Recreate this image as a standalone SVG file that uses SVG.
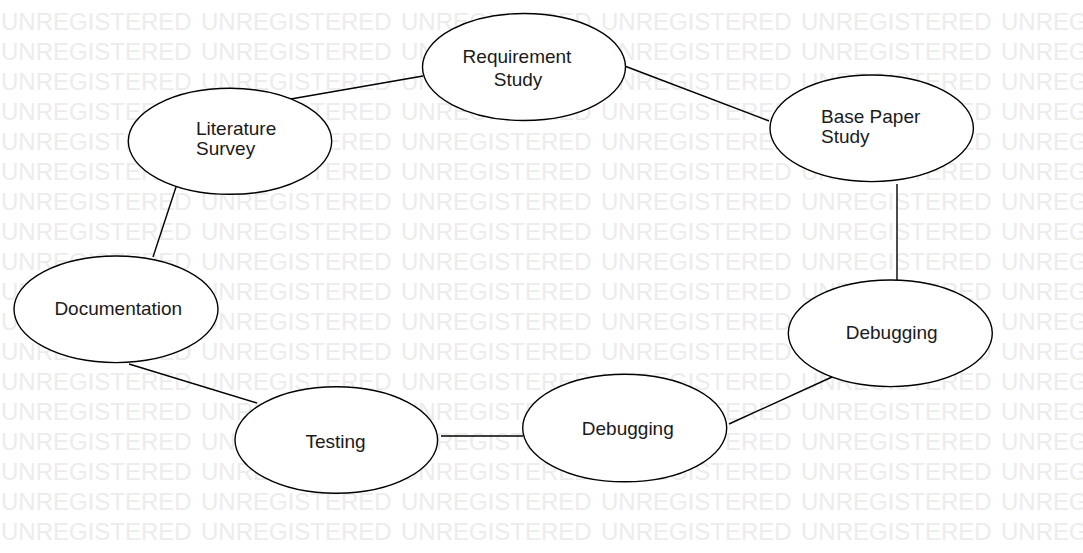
<svg xmlns="http://www.w3.org/2000/svg" xmlns:xlink="http://www.w3.org/1999/xlink" width="1083" height="553" viewBox="0 0 1083 553">
<style>
.wm{font-family:"Liberation Sans",Arial,sans-serif;font-size:24px;fill:#ececec}
.node ellipse{fill:#fff;stroke:#000;stroke-width:1.4}
.node text{font-family:"Liberation Sans",Arial,sans-serif;font-size:19px;fill:#1a1a1a}
.c{text-anchor:middle}
#connectors line{stroke:#000;stroke-width:1.4}
</style>
<defs>
<text id="wmrow" class="wm"><tspan x="1">UNREGISTERED</tspan><tspan x="201">UNREGISTERED</tspan><tspan x="401">UNREGISTERED</tspan><tspan x="601">UNREGISTERED</tspan><tspan x="801">UNREGISTERED</tspan><tspan x="1001">UNREGISTERED</tspan></text>
</defs>
<rect width="1083" height="553" fill="#fff"/>
<g id="watermark">
<use xlink:href="#wmrow" y="30"/><use xlink:href="#wmrow" y="60"/><use xlink:href="#wmrow" y="90"/>
<use xlink:href="#wmrow" y="120"/><use xlink:href="#wmrow" y="150"/><use xlink:href="#wmrow" y="180"/>
<use xlink:href="#wmrow" y="210"/><use xlink:href="#wmrow" y="240"/><use xlink:href="#wmrow" y="270"/>
<use xlink:href="#wmrow" y="300"/><use xlink:href="#wmrow" y="330"/><use xlink:href="#wmrow" y="360"/>
<use xlink:href="#wmrow" y="390"/><use xlink:href="#wmrow" y="420"/><use xlink:href="#wmrow" y="450"/>
<use xlink:href="#wmrow" y="480"/><use xlink:href="#wmrow" y="510"/><use xlink:href="#wmrow" y="540"/>
</g>
<g id="connectors">
<line x1="285" y1="100" x2="423" y2="76"/>
<line x1="622" y1="65" x2="769" y2="121"/>
<line x1="897" y1="184" x2="897" y2="281"/>
<line x1="832" y1="377" x2="729" y2="424"/>
<line x1="441" y1="436" x2="523" y2="436"/>
<line x1="129" y1="364" x2="257" y2="403"/>
<line x1="153" y1="257" x2="177" y2="184"/>
</g>
<g id="node-requirement" class="node">
<ellipse cx="524" cy="67" rx="101.5" ry="53.5"/>
<text class="c" x="517" y="63">Requirement</text>
<text class="c" x="518" y="86">Study</text>
</g>
<g id="node-literature" class="node">
<ellipse cx="230" cy="141.3" rx="101.7" ry="53"/>
<text x="196" y="135">Literature</text>
<text x="196" y="155">Survey</text>
</g>
<g id="node-basepaper" class="node">
<ellipse cx="871.7" cy="128.3" rx="101.7" ry="53.3"/>
<text x="821" y="123">Base Paper</text>
<text x="821" y="142.5">Study</text>
</g>
<g id="node-documentation" class="node">
<ellipse cx="116" cy="309.3" rx="102" ry="53.3"/>
<text class="c" x="118.3" y="315">Documentation</text>
</g>
<g id="node-testing" class="node">
<ellipse cx="336.3" cy="440" rx="101.3" ry="53.3"/>
<text class="c" x="335.5" y="447.5">Testing</text>
</g>
<g id="node-debugging-lower" class="node">
<ellipse cx="624.7" cy="428" rx="102" ry="53.8"/>
<text class="c" x="627.8" y="435">Debugging</text>
</g>
<g id="node-debugging-upper" class="node">
<ellipse cx="890.3" cy="333.3" rx="102" ry="53.3"/>
<text class="c" x="891.7" y="339">Debugging</text>
</g>
</svg>
